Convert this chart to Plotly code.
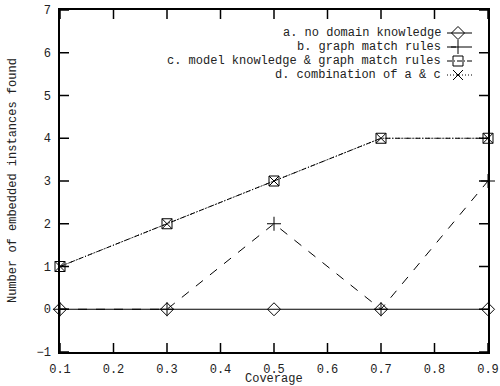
import plotly.graph_objects as go

coverage = [0.1, 0.3, 0.5, 0.7, 0.9]
a_no_domain = [0, 0, 0, 0, 0]
b_graph_match = [0, 0, 2, 0, 3]
c_model_graph = [1, 2, 3, 4, 4]
d_combination = [1, 2, 3, 4, 4]
names = ["a. no domain knowledge", "b. graph match rules",
         "c. model knowledge & graph match rules", "d. combination of a & c"]
x_ticks = [0.1, 0.2, 0.3, 0.4, 0.5, 0.6, 0.7, 0.8, 0.9]
y_ticks = [-1, 0, 1, 2, 3, 4, 5, 6, 7]

FONT = "Liberation Mono"
TXT = "#222"
series = [
    (a_no_domain, "solid", "diamond-open"),
    (b_graph_match, "dash", "cross-thin-open"),
    (c_model_graph, "5px,2px,1px,2px", "square-open"),
    (d_combination, "1px,2px", "x-thin-open"),
]

W, H = 500, 386
L, R, T, B = 60, 12, 10, 34
pw, ph = W - L - R, H - T - B
XR, YR = [0.1, 0.9], [-1, 7]
TL = 9  # tick length in px
dx = TL / pw * (XR[1] - XR[0])
dy = TL / ph * (YR[1] - YR[0])


def px2x(p):
    return XR[0] + (p - L) / pw * (XR[1] - XR[0])


def px2y(p):
    return YR[1] - (p - T) / ph * (YR[1] - YR[0])


fig = go.Figure()

# inside ticks on all four sides (gnuplot style), built from the tick lists
tx, ty = [], []
for xv in x_ticks:
    tx += [xv, xv, None, xv, xv, None]
    ty += [YR[0], YR[0] + dy, None, YR[1], YR[1] - dy, None]
for yv in y_ticks:
    tx += [XR[0], XR[0] + dx, None, XR[1], XR[1] - dx, None]
    ty += [yv, yv, None, yv, yv, None]
fig.add_trace(go.Scatter(x=tx, y=ty, mode="lines", line=dict(color="black", width=1.5),
                         showlegend=False, hoverinfo="skip", cliponaxis=False))

for (vals, dash, sym), nm in zip(series, names):
    fig.add_trace(go.Scatter(
        x=coverage, y=vals, name=nm, mode="lines+markers",
        line=dict(color="black", width=1, dash=dash),
        marker=dict(symbol=sym, size=10, color="black", line=dict(width=1, color="black")),
        showlegend=False, cliponaxis=False))

# gnuplot-style key: text right-aligned, sample on the right
key_y = [33, 47, 61, 75]
for (vals, dash, sym), nm, yy in zip(series, names, key_y):
    yp = px2y(yy)
    fig.add_trace(go.Scatter(
        x=[px2x(447), px2x(472)], y=[yp, yp], mode="lines",
        line=dict(color="black", width=1, dash=dash), showlegend=False, hoverinfo="skip"))
    fig.add_trace(go.Scatter(
        x=[px2x(458)], y=[yp], mode="markers",
        marker=dict(symbol=sym, size=10, color="black", line=dict(width=1, color="black")),
        showlegend=False, hoverinfo="skip"))
    fig.add_annotation(x=px2x(443), y=yp, text=nm,
                       showarrow=False, xanchor="right", yanchor="middle",
                       font=dict(family=FONT, size=12, color=TXT))

# axis titles as paper annotations (gnuplot placement)
fig.add_annotation(x=0.5, y=-(379 - T - ph) / ph, xref="paper", yref="paper",
                   text="Coverage", showarrow=False, xanchor="center", yanchor="middle",
                   font=dict(family=FONT, size=12, color=TXT))
fig.add_annotation(x=-(L - 13) / pw, y=0.5, xref="paper", yref="paper",
                   text="Number of embedded instances found", textangle=-90,
                   showarrow=False, xanchor="center", yanchor="middle",
                   font=dict(family=FONT, size=12, color=TXT))

axis_common = dict(showgrid=False, zeroline=False, showline=True, linecolor="black",
                   linewidth=1.5, mirror=True, ticks="", automargin=False,
                   ticklabelstandoff=5,
                   tickfont=dict(family=FONT, size=12, color=TXT))
fig.update_layout(
    width=W, height=H, margin=dict(l=L, r=R, t=T, b=B),
    plot_bgcolor="white", paper_bgcolor="white",
    xaxis=dict(range=XR, tickvals=x_ticks, ticktext=[str(v) for v in x_ticks], **axis_common),
    yaxis=dict(range=YR, tickvals=y_ticks, **axis_common),
    showlegend=False,
)
fig.write_html("out.html")
